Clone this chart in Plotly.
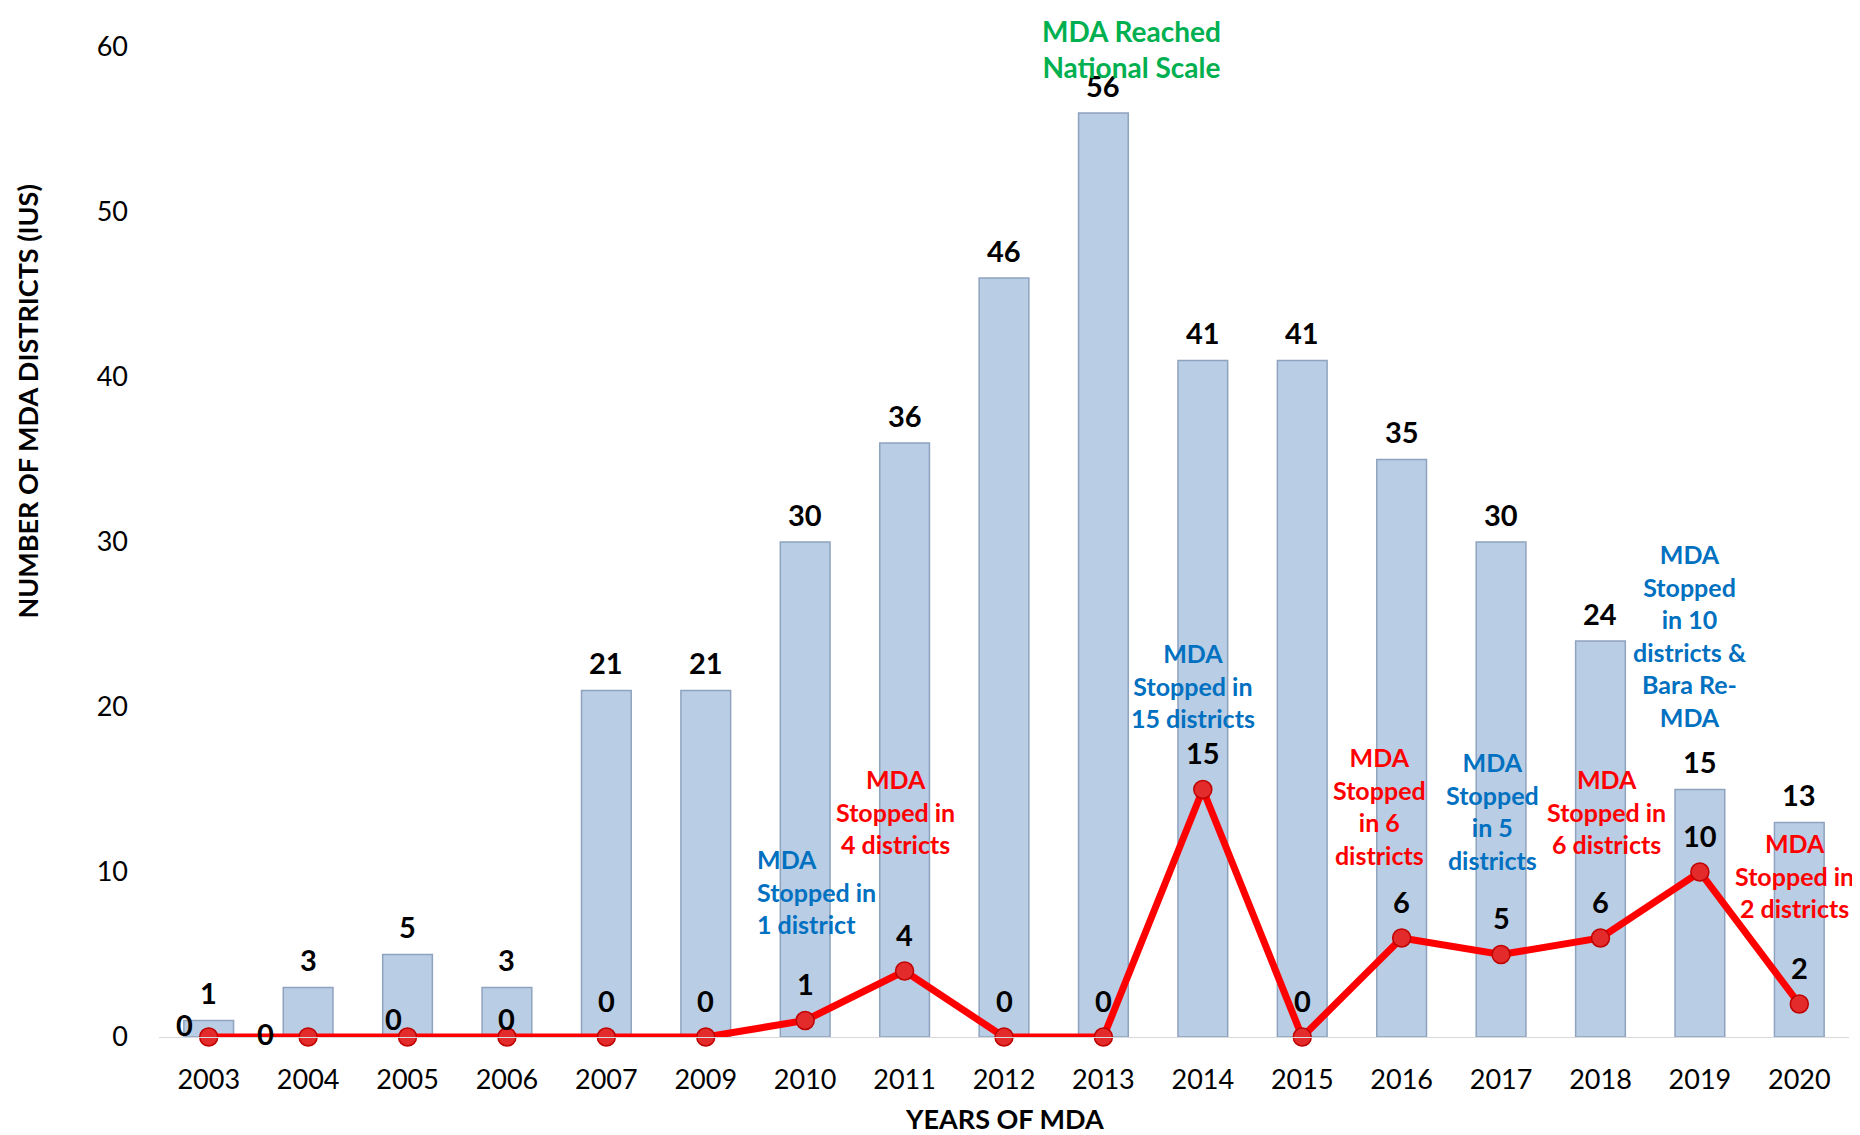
import plotly.graph_objects as go

years = ["2003", "2004", "2005", "2006", "2007", "2009", "2010", "2011", "2012",
         "2013", "2014", "2015", "2016", "2017", "2018", "2019", "2020"]
mda_districts = [1, 3, 5, 3, 21, 21, 30, 36, 46, 56, 41, 41, 35, 30, 24, 15, 13]
stopped_districts = [0, 0, 0, 0, 0, 0, 1, 4, 0, 0, 15, 0, 6, 5, 6, 10, 2]
y_ticks = [0, 10, 20, 30, 40, 50, 60]

notes = [
    ("MDA<br>Stopped in<br>1 district", "#0070C0"),
    ("MDA<br>Stopped in<br>4 districts", "#FF0000"),
    ("MDA<br>Stopped in<br>15 districts", "#0070C0"),
    ("MDA<br>Stopped<br>in 6<br>districts", "#FF0000"),
    ("MDA<br>Stopped<br>in 5<br>districts", "#0070C0"),
    ("MDA<br>Stopped in<br>6 districts", "#FF0000"),
    ("MDA<br>Stopped<br>in 10<br>districts &<br>Bara Re-<br>MDA", "#0070C0"),
    ("MDA<br>Stopped in<br>2 districts", "#FF0000"),
]
headline = "MDA Reached<br>National Scale"

# placement of notes (x index, y value, anchor)
note_pos = [(5.50, 8.84, "left"), (6.91, 13.65, "center"),
            (9.90, 21.3, "center"), (11.78, 14.0, "center"), (12.91, 13.7, "center"),
            (14.06, 13.65, "center"), (14.90, 24.35, "center"), (15.95, 9.77, "center")]

FONT = "Lato"

fig = go.Figure()
fig.add_trace(go.Bar(
    x=years, y=mda_districts, width=0.5,
    marker=dict(color="#B9CDE5", line=dict(color="#8FA3BE", width=1.5)),
    showlegend=False, hoverinfo="x+y",
))
fig.add_trace(go.Scatter(
    x=years, y=stopped_districts, mode="lines+markers",
    line=dict(color="#FF0000", width=7),
    marker=dict(size=18, color="#E32B2B", line=dict(color="#C00000", width=1.5)),
    showlegend=False, cliponaxis=False,
))

annotations = []
for i, v in enumerate(mda_districts):
    annotations.append(dict(x=i, y=v, xref="x", yref="y", text=f"<b>{v}</b>",
                            showarrow=False, yanchor="middle", yshift=28,
                            font=dict(family=FONT, size=29, color="black")))
special_shift = {0: (-24, 13), 1: (-43, 4), 2: (-14, 19), 3: (0, 19)}
for i, v in enumerate(stopped_districts):
    dx, dy = special_shift.get(i, (0, 37))
    annotations.append(dict(x=i, y=v, xref="x", yref="y", text=f"<b>{v}</b>",
                            showarrow=False, yanchor="middle", xshift=dx, yshift=dy,
                            font=dict(family=FONT, size=29, color="black")))
annotations.append(dict(x=9.28, y=60.0, xref="x", yref="y", text=f"<b>{headline}</b>",
                        showarrow=False, xanchor="center", yanchor="middle", yshift=-2,
                        font=dict(family=FONT, size=28, color="#00B050")))
for (txt, col), (nx, ny, anc) in zip(notes, note_pos):
    annotations.append(dict(x=nx, y=ny, xref="x", yref="y", text=f"<b>{txt}</b>",
                            showarrow=False, xanchor=anc, yanchor="middle",
                            align="left" if anc == "left" else "center",
                            font=dict(family=FONT, size=25, color=col)))
annotations.append(dict(x=0.5, y=-0.082, xref="paper", yref="paper",
                        text="<b>YEARS OF MDA</b>", showarrow=False, yanchor="middle",
                        font=dict(family=FONT, size=27, color="black")))
annotations.append(dict(x=-0.078, y=0.642, xref="paper", yref="paper", textangle=-90,
                        text="<b>NUMBER OF MDA DISTRICTS (IUS)</b>", showarrow=False,
                        xanchor="center", yanchor="middle",
                        font=dict(family=FONT, size=27, color="black")))

fig.update_layout(
    width=1860, height=1135,
    margin=dict(l=151, r=19, t=39, b=106),
    plot_bgcolor="white", paper_bgcolor="white",
    annotations=annotations,
    font=dict(family=FONT, size=27, color="black"),
)
fig.update_xaxes(type="category", showgrid=False, showline=True, linecolor="#D9D9D9",
                 linewidth=1, ticks="", ticklabelstandoff=19,
                 tickfont=dict(family=FONT, size=27, color="black"),
                 range=[-0.5, 16.5])
fig.update_yaxes(range=[0, 60], tickvals=y_ticks, showgrid=False, zeroline=False,
                 showline=False, ticks="", ticklen=0, ticklabelstandoff=30,
                 tickfont=dict(family=FONT, size=27, color="black"))

fig.write_html("out.html")
